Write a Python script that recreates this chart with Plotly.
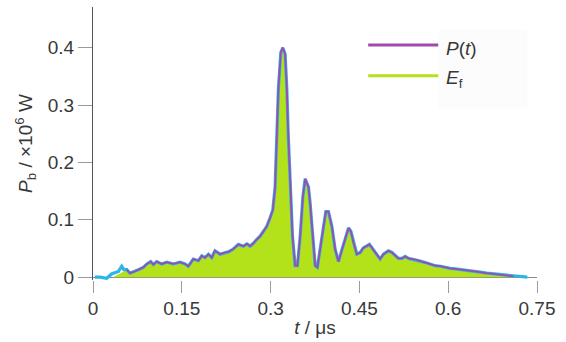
import plotly.graph_objects as go

# Main pulse curve (t in microseconds, P in 1e6 W)
t_main = [0.057, 0.0625, 0.068, 0.0766, 0.085, 0.091, 0.0975, 0.102, 0.1077, 0.116,
          0.1246, 0.1357, 0.147, 0.1555, 0.161, 0.1695, 0.178, 0.1837, 0.1893, 0.195,
          0.2006, 0.206, 0.2147, 0.223, 0.2287, 0.237, 0.2456, 0.254, 0.26, 0.2654,
          0.271, 0.2767, 0.2823, 0.288, 0.2936, 0.299, 0.3037, 0.3076, 0.3105, 0.3132,
          0.3173, 0.3207, 0.3245, 0.3274, 0.330, 0.333, 0.337, 0.3414, 0.3453, 0.350,
          0.3545, 0.3584, 0.364, 0.3668, 0.3714, 0.3753, 0.379, 0.3837, 0.389, 0.3933,
          0.3977, 0.4035, 0.409, 0.4146, 0.420, 0.426, 0.4316, 0.4356, 0.440, 0.4457,
          0.4513, 0.457, 0.4626, 0.467, 0.471, 0.4767, 0.4823, 0.485, 0.4907, 0.499,
          0.505, 0.5105, 0.516, 0.522, 0.5274, 0.533, 0.5387, 0.547, 0.5556, 0.564,
          0.5696, 0.578, 0.5866, 0.595, 0.6035, 0.612, 0.6204, 0.6317, 0.643, 0.654,
          0.6655, 0.6766, 0.688, 0.6993, 0.710]
p_main = [0.013, 0.007, 0.009, 0.013, 0.017, 0.023, 0.027, 0.022, 0.027, 0.023,
          0.026, 0.023, 0.026, 0.023, 0.019, 0.0315, 0.0286, 0.037, 0.034, 0.040,
          0.034, 0.046, 0.040, 0.043, 0.044, 0.049, 0.057, 0.054, 0.058, 0.054,
          0.059, 0.066, 0.0715, 0.080, 0.0886, 0.103, 0.117, 0.157, 0.243, 0.329,
          0.392, 0.400, 0.389, 0.329, 0.243, 0.157, 0.0715, 0.020, 0.020, 0.0715,
          0.140, 0.1715, 0.157, 0.1286, 0.0715, 0.020, 0.017, 0.0487, 0.0886, 0.1143,
          0.1143, 0.0886, 0.0487, 0.027, 0.046, 0.0686, 0.0857, 0.080, 0.060, 0.040,
          0.043, 0.0514, 0.0543, 0.057, 0.0514, 0.043, 0.037, 0.0315, 0.040, 0.0458,
          0.043, 0.037, 0.0326, 0.0326, 0.036, 0.0326, 0.0315, 0.030, 0.027, 0.0247,
          0.023, 0.020, 0.019, 0.017, 0.0154, 0.0144, 0.013, 0.0115, 0.0098, 0.0086,
          0.0069, 0.0058, 0.0041, 0.003, 0.0017]

# Leading / trailing segments only visible in the cyan trace
t_lead = [0.003, 0.012, 0.023, 0.032, 0.043, 0.0485, 0.052]
p_lead = [0.000, 0.000, -0.002, 0.006, 0.010, 0.019, 0.013]
t_tail = [0.7218, 0.7336]
p_tail = [0.001, 0.000]

# Green fill start points
t_fill_lead = [0.034, 0.045]
p_fill_lead = [0.0, 0.006]

x_ticks = [0, 0.15, 0.3, 0.45, 0.6, 0.75]
x_ticklabels = ["0", "0.15", "0.3", "0.45", "0.6", "0.75"]
y_ticks = [0, 0.1, 0.2, 0.3, 0.4]
y_ticklabels = ["0", "0.1", "0.2", "0.3", "0.4"]

PURPLE = "#a24aab"
GREEN = "#b3e21b"
CYAN = "#2cb5e8"
FONT = "Liberation Sans, Arial, sans-serif"
FS = 19
TXT = "#383838"

# geometry (pixels)
Y0 = 281.7          # pixel row of P = 0
TOP = 7.0           # top of y axis
PPU = 583.3         # pixels per unit of P
YMIN = -0.005
BOT = Y0 - YMIN * PPU
LEFT, RIGHT = 93.0, 536.7
W, H = 566, 342
PH = BOT - TOP
PW = RIGHT - LEFT

fig = go.Figure()
fig.add_trace(go.Scatter(
    x=t_fill_lead + t_main, y=p_fill_lead + p_main,
    mode="lines", line=dict(width=0, color=GREEN),
    fill="tozeroy", fillcolor=GREEN, name="E_f", showlegend=False, hoverinfo="skip"))
fig.add_trace(go.Scatter(
    x=t_lead + t_main + t_tail, y=p_lead + p_main + p_tail,
    mode="lines", line=dict(width=3.2, color=CYAN), showlegend=False))
fig.add_trace(go.Scatter(
    x=t_main, y=p_main, mode="lines",
    line=dict(width=1.8, color=PURPLE), name="P(t)", showlegend=False))

fig.update_xaxes(range=[0, 0.75], tickvals=x_ticks, ticktext=x_ticklabels,
                 showgrid=False, showline=False,
                 zeroline=False, ticks="outside", ticklen=11.5, tickwidth=1, tickcolor="#9a9a9a",
                 tickfont=dict(family=FONT, size=FS, color=TXT),
                 title=dict(text="<i>t</i> / μs", font=dict(family=FONT, size=FS, color=TXT),
                            standoff=2))
fig.update_yaxes(range=[YMIN, (Y0 - TOP) / PPU], tickvals=y_ticks, ticktext=y_ticklabels,
                 showgrid=False, showline=True, linecolor="#555555", linewidth=1.2,
                 zeroline=True, zerolinecolor="#8a8a8a", zerolinewidth=1.2,
                 ticks="outside", ticklen=14, tickwidth=1, tickcolor="#9a9a9a",
                 tickfont=dict(family=FONT, size=FS, color=TXT),
                 title=dict(text="<i>P</i><sub>b</sub> / ×10<sup>6</sup> W",
                            font=dict(family=FONT, size=FS, color=TXT), standoff=10))


def px(x):
    return (x - LEFT) / PW


def py(y):
    return (BOT - y) / PH


# Manual legend
fig.add_shape(type="rect", xref="paper", yref="paper", x0=px(438), x1=px(527),
              y0=py(110), y1=py(30), fillcolor="#fcfcfc", line=dict(width=0), layer="below")
fig.add_shape(type="line", xref="paper", yref="paper", x0=px(368), x1=px(438),
              y0=py(45.7), y1=py(45.7), line=dict(color=PURPLE, width=3))
fig.add_shape(type="line", xref="paper", yref="paper", x0=px(368), x1=px(438),
              y0=py(77), y1=py(77), line=dict(color=GREEN, width=3))
fig.add_annotation(xref="paper", yref="paper", x=px(444), y=py(49),
                   xanchor="left", yanchor="middle", showarrow=False,
                   text="<i>P</i>(<i>t</i>)", font=dict(family=FONT, size=FS, color=TXT))
fig.add_annotation(xref="paper", yref="paper", x=px(444), y=py(80),
                   xanchor="left", yanchor="middle", showarrow=False,
                   text="<i>E</i><sub>f</sub>", font=dict(family=FONT, size=FS, color=TXT))

fig.update_layout(width=W, height=H,
                  margin=dict(l=LEFT, r=W - RIGHT, t=TOP, b=H - BOT),
                  paper_bgcolor="white", plot_bgcolor="white", showlegend=False)

fig.write_html("out.html")
